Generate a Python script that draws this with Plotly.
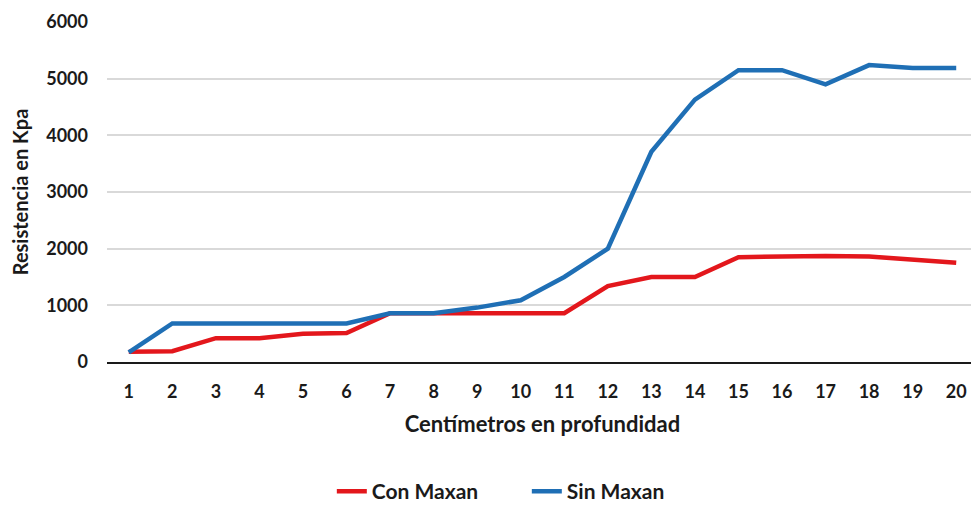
import plotly.graph_objects as go

categories = [str(i) for i in range(1, 21)]
con_maxan = [180, 190, 420, 420, 500, 510, 860, 860, 860, 860, 860, 1340, 1500, 1500, 1850, 1860, 1870, 1860, 1810, 1750]
sin_maxan = [170, 680, 680, 680, 680, 680, 860, 860, 960, 1090, 1500, 2000, 3710, 4630, 5150, 5150, 4900, 5240, 5190, 5190]
y_ticks = [0, 1000, 2000, 3000, 4000, 5000, 6000]

FONT = "Lato"
TXT = "#1a1a1a"
fig = go.Figure()
fig.add_trace(go.Scatter(x=categories, y=con_maxan, mode="lines", name="<b>Con Maxan</b>",
                         line=dict(color="#E3171C", width=4.5)))
fig.add_trace(go.Scatter(x=categories, y=sin_maxan, mode="lines", name="<b>Sin Maxan</b>",
                         line=dict(color="#1F6FB5", width=4.5)))

fig.update_layout(
    width=971, height=509,
    margin=dict(l=99, r=1, t=14, b=155, autoexpand=False),
    paper_bgcolor="white", plot_bgcolor="white",
    font=dict(family=FONT, size=18, color=TXT),
    showlegend=True,
    legend=dict(orientation="h", x=0.482, xanchor="center",
                yref="container", y=0.05, yanchor="middle",
                font=dict(family=FONT, size=21, color=TXT),
                entrywidth=150, entrywidthmode="pixels",
                traceorder="normal"),
    xaxis=dict(type="category", range=[-0.5, 19.5], showgrid=False, zeroline=False,
               showline=True, linecolor=TXT, linewidth=2, automargin=False,
               ticks="", ticklabelstandoff=12,
               tickvals=categories, ticktext=[f"<b>{c}</b>" for c in categories],
               tickfont=dict(family=FONT, size=18, color=TXT),
               title=dict(text="<b>Centímetros en profundidad</b>", standoff=16,
                          font=dict(family=FONT, size=22, color=TXT))),
    yaxis=dict(range=[0, 6000], tickvals=y_ticks, ticktext=[f"<b>{v}</b>" for v in y_ticks],
               showgrid=True, gridcolor="#d9d9d9", gridwidth=1.5, zeroline=False,
               automargin=False,
               ticks="", ticklabelstandoff=18,
               tickfont=dict(family=FONT, size=18, color=TXT),
               title=dict(text="<b>Resistencia en Kpa</b>", standoff=12,
                          font=dict(family=FONT, size=20, color=TXT))),
)
fig.write_html("out.html")
